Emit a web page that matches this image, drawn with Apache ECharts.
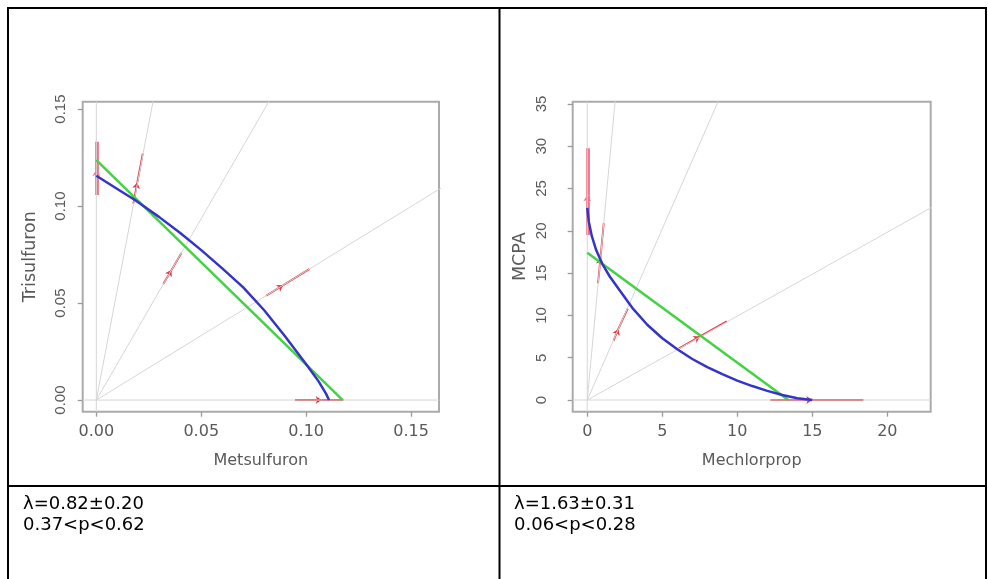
<!DOCTYPE html>
<html><head><meta charset="utf-8">
<script src="https://cdn.jsdelivr.net/npm/echarts@6/dist/echarts.min.js"></script>
<style>html,body{margin:0;padding:0;background:#fff;}#c{width:988px;height:579px;}</style>
</head><body><div id="c"></div>
<script>
// ---- tick labels ----
const leftXTicks = [0, 0.05, 0.10, 0.15];
const leftYTicks = [0, 0.05, 0.10, 0.15];
const rightXTicks = [0, 5, 10, 15, 20];
const rightYTicks = [0, 5, 10, 15, 20, 25, 30, 35];
// ---- axis names ----
const leftNames = ['Metsulfuron', 'Trisulfuron'];
const rightNames = ['Mechlorprop', 'MCPA'];
// ---- gray rays from the origin (far end points, clipped by the plot box) ----
const leftRays = [[0.028, 0.1596], [0.0855, 0.1600], [0.17, 0.1131]];
const rightRays = [[1.9, 36.1], [9.0, 36.4], [24.0, 23.8]];
// ---- fitted isobole (blue) ----
const leftBlue = [[0, 0.1156], [0.01, 0.1088], [0.0184, 0.1031], [0.03, 0.0943], [0.04, 0.0861],
  [0.05, 0.0773], [0.06, 0.0679], [0.07, 0.0581], [0.08, 0.0463], [0.09, 0.0328], [0.10, 0.0185],
  [0.106, 0.0095], [0.1095, 0.0032], [0.1109, 0]];
const rightBlue = [[0, 22.7], [0.1, 21.1], [0.3, 19.4], [0.6, 17.7], [1.0, 16.1], [1.5, 14.6], [2.0, 13.35],
  [3.0, 10.9], [4.0, 8.9], [5.0, 7.3], [6.0, 6.0], [7.0, 4.85], [8.0, 3.9], [9.0, 3.05], [10.0, 2.3],
  [11.0, 1.65], [12.0, 1.08], [13.0, 0.6], [14.0, 0.22], [15.0, 0]];
// ---- additive isobole (green) ----
const leftGreen = [[0, 0.1237], [0.1174, 0]];
const rightGreen = [[0, 17.4], [13.4, 0]];
// ---- ED50 intervals along rays: [low, estimate, high] ----
const leftArrows = [
  [[0, 0.1057], [0, 0.1186], [0, 0.1332]],
  [[0.0176, 0.1012], [0.0195, 0.1121], [0.0221, 0.1270]],
  [[0.0319, 0.0598], [0.0358, 0.0670], [0.0405, 0.0757]],
  [[0.0809, 0.0538], [0.0890, 0.0592], [0.1015, 0.0675]],
  [[0.0947, 0], [0.1074, 0], [0.1177, 0]]
];
const rightArrows = [
  [[0, 19.5], [0, 24.2], [0, 29.75]],
  [[0.72, 13.8], [0.88, 16.8], [1.1, 20.9]],
  [[1.75, 7.0], [2.07, 8.4], [2.7, 10.8]],
  [[6.1, 6.1], [7.5, 7.5], [9.3, 9.3]],
  [[12.2, 0], [15.0, 0], [18.4, 0]]
];
// ---- statistics under each plot ----
const leftStats = ['\u03BB=0.82\u00B10.20', '0.37<p<0.62'];
const rightStats = ['\u03BB=1.63\u00B10.31', '0.06<p<0.28'];

// axis ranges (plot box limits)
const ranges = [
  {x: [-0.0065, 0.1633], y: [-0.0060, 0.1538]},
  {x: [-0.97, 22.89], y: [-1.38, 35.26]}
];

const chart = echarts.init(document.getElementById('c'), null, {renderer: 'canvas'});
const labelColor = '#595959';
const grids = [
  {left: 82.7, top: 101.7, width: 356.3, height: 310},
  {left: 572.7, top: 101.7, width: 358, height: 310}
];
grids.forEach(g => Object.assign(g, {show: true, borderColor: '#ababab', borderWidth: 2, containLabel: false}));

function xAxis(i, ticks, name, fmt) {
  return {
    type: 'value', gridIndex: i, min: ranges[i].x[0], max: ranges[i].x[1],
    splitLine: {show: false},
    axisLine: {show: false, onZero: false},
    axisTick: {show: true, customValues: ticks, length: 5, lineStyle: {color: '#9a9a9a', width: 1.3}},
    axisLabel: {customValues: ticks, formatter: fmt, margin: 12, color: labelColor, fontSize: 16, fontFamily: 'DejaVu Sans'},
    name: name, nameLocation: 'middle', nameGap: 41,
    nameTextStyle: {color: labelColor, fontSize: 16, fontFamily: 'DejaVu Sans'}
  };
}
function yAxis(i, ticks, name, fmt, margin) {
  return {
    type: 'value', gridIndex: i, min: ranges[i].y[0], max: ranges[i].y[1],
    splitLine: {show: false},
    axisLine: {show: false, onZero: false},
    axisTick: {show: true, customValues: ticks, length: 5, lineStyle: {color: '#9a9a9a', width: 1.3}},
    axisLabel: {customValues: ticks, formatter: fmt, rotate: 90, margin: margin, color: labelColor, fontSize: 15, fontFamily: 'Liberation Sans'},
    name: name, nameLocation: 'middle', nameGap: 43, nameRotate: 90,
    nameTextStyle: {color: labelColor, fontSize: 17.5, fontFamily: 'DejaVu Sans'}
  };
}
const f2 = v => v.toFixed(2);
const f0 = v => String(Math.round(v));

function panelSeries(i, rays, green, blue, arrows) {
  const s = [];
  const r = ranges[i];
  const gray = {color: '#d6d6d6', width: 1};
  // reference lines x=0 and y=0
  s.push({type: 'line', xAxisIndex: i, yAxisIndex: i, data: [[0, r.y[0]], [0, r.y[1]]], symbol: 'none', silent: true, lineStyle: gray, clip: true});
  s.push({type: 'line', xAxisIndex: i, yAxisIndex: i, data: [[r.x[0], 0], [r.x[1], 0]], symbol: 'none', silent: true, lineStyle: gray, clip: true});
  rays.forEach(p => s.push({type: 'line', xAxisIndex: i, yAxisIndex: i, data: [[0, 0], p], symbol: 'none', silent: true, lineStyle: gray, clip: true}));
  s.push({type: 'line', xAxisIndex: i, yAxisIndex: i, data: green, symbol: 'none', silent: true, lineStyle: {color: '#42d242', width: 2.5}, clip: true});
  s.push({type: 'line', xAxisIndex: i, yAxisIndex: i, data: blue, symbol: 'none', smooth: false, silent: true, lineStyle: {color: '#3434c8', width: 2.5, join: 'round'}, clip: true});
  const styleOf = k => k === 0 ? {color: '#f0748a', width: 3.8, opacity: 1} : {color: '#e23a44', width: 1.8, opacity: 1};
  s.push({
    type: 'lines', coordinateSystem: 'cartesian2d', xAxisIndex: i, yAxisIndex: i, silent: true,
    symbol: ['none', 'arrow'], symbolSize: 6,
    data: arrows.map((a, k) => ({coords: [a[0], a[1]], lineStyle: styleOf(k)}))
  });
  s.push({
    type: 'lines', coordinateSystem: 'cartesian2d', xAxisIndex: i, yAxisIndex: i, silent: true,
    symbol: ['none', 'none'],
    data: arrows.map((a, k) => ({coords: [a[1], a[2]], lineStyle: styleOf(k)}))
  });
  return s;
}

const border = {stroke: '#000', lineWidth: 2};
const statFont = '18px "DejaVu Sans"';
const graphic = [
  {type: 'line', shape: {x1: 7, y1: 8, x2: 987, y2: 8}, style: border, silent: true},
  {type: 'line', shape: {x1: 8, y1: 7, x2: 8, y2: 579}, style: border, silent: true},
  {type: 'line', shape: {x1: 499.5, y1: 7, x2: 499.5, y2: 579}, style: border, silent: true},
  {type: 'line', shape: {x1: 986, y1: 7, x2: 986, y2: 579}, style: border, silent: true},
  {type: 'line', shape: {x1: 7, y1: 486, x2: 987, y2: 486}, style: border, silent: true},
  {type: 'text', x: 23, y: 504.5, style: {text: leftStats[0], font: statFont, fill: '#000', verticalAlign: 'middle'}},
  {type: 'text', x: 23, y: 525, style: {text: leftStats[1], font: statFont, fill: '#000', verticalAlign: 'middle'}},
  {type: 'text', x: 514, y: 504.5, style: {text: rightStats[0], font: statFont, fill: '#000', verticalAlign: 'middle'}},
  {type: 'text', x: 514, y: 525, style: {text: rightStats[1], font: statFont, fill: '#000', verticalAlign: 'middle'}}
];

chart.setOption({
  animation: false,
  backgroundColor: '#fff',
  grid: grids,
  xAxis: [xAxis(0, leftXTicks, leftNames[0], f2), xAxis(1, rightXTicks, rightNames[0], f0)],
  yAxis: [yAxis(0, leftYTicks, leftNames[1], f2, 14), yAxis(1, rightYTicks, rightNames[1], f0, 23)],
  series: [].concat(
    panelSeries(0, leftRays, leftGreen, leftBlue, leftArrows),
    panelSeries(1, rightRays, rightGreen, rightBlue, rightArrows)
  ),
  graphic: graphic
});
</script></body></html>
